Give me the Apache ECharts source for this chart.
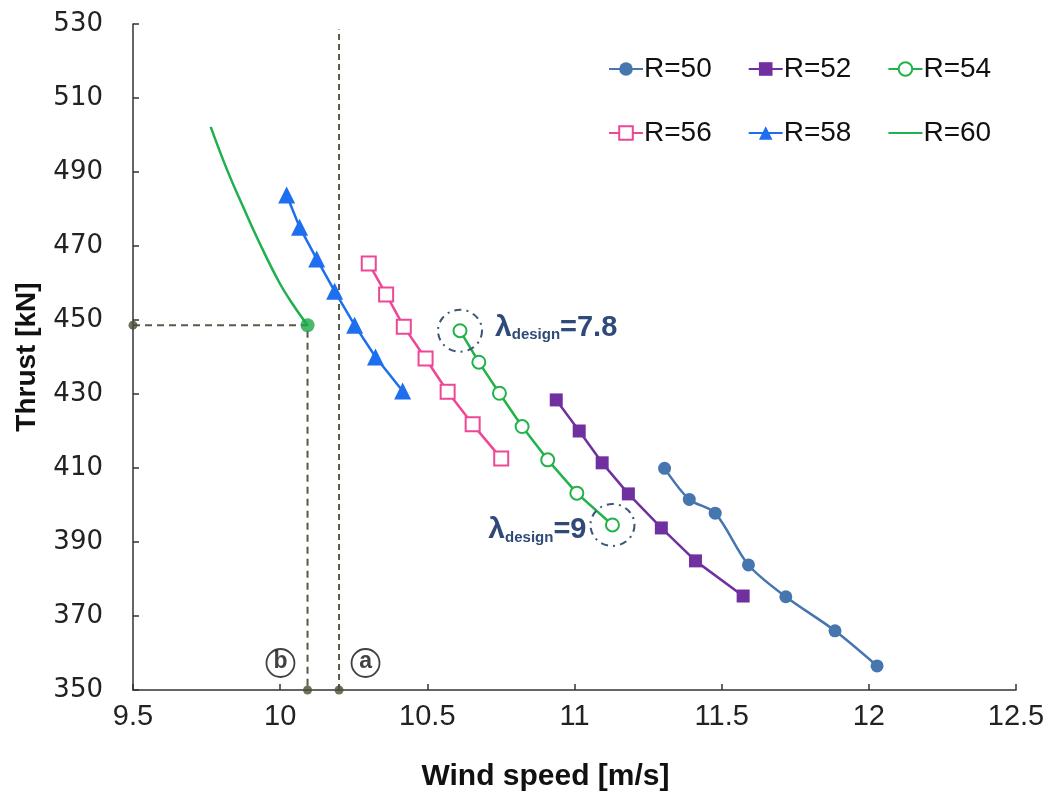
<!DOCTYPE html>
<html>
<head>
<meta charset="utf-8">
<script src="https://cdn.jsdelivr.net/npm/echarts@6/dist/echarts.min.js"></script>
<style>html,body{margin:0;padding:0;background:#fff}#c{width:1050px;height:798px}</style>
</head>
<body>
<div id="c"></div>
<script>
// ---- data ----
const seriesNames = ['R=50', 'R=52', 'R=54', 'R=56', 'R=58', 'R=60'];
const r50Wind   = [11.306, 11.390, 11.478, 11.591, 11.718, 11.885, 12.028];
const r50Thrust = [409.9, 401.5, 397.8, 383.8, 375.2, 366.0, 356.5];
const r52Wind   = [10.938, 11.016, 11.094, 11.183, 11.295, 11.411, 11.573];
const r52Thrust = [428.4, 420.0, 411.4, 403.0, 393.8, 384.9, 375.4];
const r54Wind   = [10.611, 10.675, 10.745, 10.822, 10.909, 11.008, 11.129];
const r54Thrust = [447.1, 438.6, 430.2, 421.2, 412.2, 403.2, 394.6];
const r56Wind   = [10.301, 10.360, 10.420, 10.494, 10.569, 10.654, 10.751];
const r56Thrust = [465.3, 456.9, 448.2, 439.6, 430.6, 421.8, 412.6];
const r58Wind   = [10.022, 10.066, 10.124, 10.185, 10.253, 10.324, 10.416];
const r58Thrust = [483.8, 475.1, 466.5, 457.8, 448.6, 440.0, 430.8];
const r60Wind   = [9.764, 9.820, 9.879, 9.930, 9.998, 10.045, 10.093];
const r60Thrust = [502.2, 490.5, 479.7, 470.8, 460.0, 454.0, 448.6];
// annotations
const designPointA = [10.2, 350];      // (a)
const designPointB = [10.093, 448.6];  // (b)
const refTopThrust = 528.5;
const labelA = [10.29, 357.3];
const labelB = [10.001, 357.3];
const xTicks = [9.5, 10, 10.5, 11, 11.5, 12, 12.5];
const yTicks = [350, 370, 390, 410, 430, 450, 470, 490, 510, 530];

const zip = (xs, ys) => xs.map((x, i) => [x, ys[i]]);

const lambdaRich = {
  l: { fontFamily: 'Liberation Sans', fontWeight: 'bold', fontSize: 30, color: '#2f4a78', verticalAlign: 'bottom', lineHeight: 32 },
  s: { fontFamily: 'Liberation Sans', fontWeight: 'bold', fontSize: 15, color: '#2f4a78', verticalAlign: 'bottom', lineHeight: 20 },
  v: { fontFamily: 'Liberation Sans', fontWeight: 'bold', fontSize: 29, color: '#2f4a78', verticalAlign: 'bottom', lineHeight: 32 }
};
const dashCircle = {
  color: 'rgba(0,0,0,0)', borderColor: '#3d5578', borderWidth: 2, borderType: [7, 5, 2, 5]
};
const legendText = { fontFamily: 'Liberation Sans', fontSize: 28, color: '#111', padding: [0, 0, 0, -4] };

const chart = echarts.init(document.getElementById('c'), null, { renderer: 'canvas' });
chart.setOption({
  animation: false,
  backgroundColor: '#fff',
  grid: { left: 133, right: 34, top: 24, bottom: 108, containLabel: false },
  legend: [
    { data: seriesNames.slice(0, 3), left: 603, top: 50, itemWidth: 34, itemHeight: 17, itemGap: 36, textStyle: legendText },
    { data: [seriesNames[3], seriesNames[4],
             { name: seriesNames[5], itemStyle: { color: 'rgba(0,0,0,0)', borderColor: 'rgba(0,0,0,0)', borderWidth: 0 } }],
      left: 603, top: 114, itemWidth: 34, itemHeight: 17, itemGap: 36, textStyle: legendText }
  ],
  xAxis: {
    type: 'value', min: xTicks[0], max: xTicks[xTicks.length - 1], interval: 0.5,
    name: 'Wind speed [m/s]', nameLocation: 'middle', nameGap: 72,
    nameTextStyle: { fontFamily: 'Liberation Sans', fontWeight: 'bold', fontSize: 30, color: '#111', padding: [0, 58, 0, 0] },
    axisLine: { lineStyle: { color: '#333', width: 1.5 } },
    axisTick: { inside: true, length: 6, lineStyle: { color: '#333', width: 1.5 } },
    axisLabel: { fontFamily: 'Liberation Sans', fontSize: 29, color: '#222', margin: 12 },
    splitLine: { show: false }
  },
  yAxis: {
    type: 'value', min: yTicks[0], max: yTicks[yTicks.length - 1], interval: 20,
    name: 'Thrust [kN]', nameLocation: 'middle', nameGap: 92,
    nameTextStyle: { fontFamily: 'Liberation Sans', fontWeight: 'bold', fontSize: 28, color: '#111' },
    axisLine: { show: true, lineStyle: { color: '#333', width: 1.5 } },
    axisTick: { show: true, inside: true, length: 6, lineStyle: { color: '#333', width: 1.5 } },
    axisLabel: { fontFamily: 'DejaVu Sans', fontSize: 26, color: '#222', margin: 30 },
    splitLine: { show: false }
  },
  series: [
    { name: 'R=50', type: 'line', data: zip(r50Wind, r50Thrust), smooth: 0.3,
      symbol: 'circle', symbolSize: 13, color: '#4676ae',
      lineStyle: { width: 2.5, color: '#4676ae' }, itemStyle: { color: '#4676ae' } },
    { name: 'R=52', type: 'line', data: zip(r52Wind, r52Thrust),
      symbol: 'rect', symbolSize: 13, color: '#7030a0',
      lineStyle: { width: 2.5, color: '#7030a0' }, itemStyle: { color: '#7030a0' } },
    { name: 'R=54', type: 'line', data: zip(r54Wind, r54Thrust),
      symbol: 'emptyCircle', symbolSize: 13, color: '#22b24c',
      lineStyle: { width: 2.5, color: '#22b24c' }, itemStyle: { color: '#22b24c', borderWidth: 2, borderColor: '#22b24c' },
      markPoint: {
        symbol: 'circle', symbolSize: [44, 42], silent: true, itemStyle: dashCircle,
        data: [
          { coord: [r54Wind[0], r54Thrust[0]],
            label: { show: true, position: 'right', distance: 12, offset: [0, -4],
                     formatter: '{l|λ}{s|design}{v|=7.8}', rich: lambdaRich } },
          { coord: [r54Wind[6], r54Thrust[6]],
            label: { show: true, position: 'left', distance: 3, offset: [0, 4],
                     formatter: '{l|λ}{s|design}{v|=9}', rich: lambdaRich } }
        ]
      } },
    { name: 'R=56', type: 'line', data: zip(r56Wind, r56Thrust),
      symbol: 'emptyRect', symbolSize: 14, color: '#ee4795',
      lineStyle: { width: 2.5, color: '#ee4795' }, itemStyle: { color: '#ee4795', borderWidth: 2, borderColor: '#ee4795' } },
    { name: 'R=58', type: 'line', data: zip(r58Wind, r58Thrust),
      symbol: 'triangle', symbolSize: 17, color: '#1e6ff0',
      lineStyle: { width: 2.5, color: '#1e6ff0' }, itemStyle: { color: '#1e6ff0' } },
    { name: 'R=60', type: 'line', data: zip(r60Wind, r60Thrust), smooth: 0.4,
      symbol: 'none', color: '#1fb04f',
      lineStyle: { width: 2.5, color: '#1fb04f' } },
    // reference dashed lines
    { name: 'refA', type: 'line', data: [designPointA, [designPointA[0], refTopThrust]],
      symbol: 'none', lineStyle: { type: [6, 4], width: 2, color: '#5a5a48' }, z: 1, silent: true },
    { name: 'refB', type: 'line',
      data: [[xTicks[0], designPointB[1]], designPointB, [designPointB[0], yTicks[0]]],
      symbol: 'none', lineStyle: { type: [7, 5], width: 2, color: '#5a5a48' }, z: 1, silent: true },
    { name: 'dots', type: 'scatter', clip: false, silent: true, z: 5,
      data: [
        { value: [designPointA[0], yTicks[0]], symbolSize: 9, itemStyle: { color: '#4e4c34' } },
        { value: [designPointB[0], yTicks[0]], symbolSize: 9, itemStyle: { color: '#4e4c34' } },
        { value: [xTicks[0], designPointB[1]], symbolSize: 9, itemStyle: { color: '#4e4c34' } },
        { value: designPointB, symbolSize: 14, itemStyle: { color: '#1aa848' } }
      ] },
    { name: 'circLabels', type: 'scatter', silent: true, z: 6,
      symbol: 'circle', symbolSize: 28,
      itemStyle: { color: '#fff', borderColor: '#111', borderWidth: 1.8 },
      label: { show: true, position: 'inside', fontFamily: 'Liberation Sans', fontWeight: 'bold', fontSize: 23, color: '#111',
               formatter: p => p.data.t, offset: [0, -1] },
      data: [ { value: labelA, t: 'a' }, { value: labelB, t: 'b' } ] }
  ]
});
</script>
</body>
</html>
